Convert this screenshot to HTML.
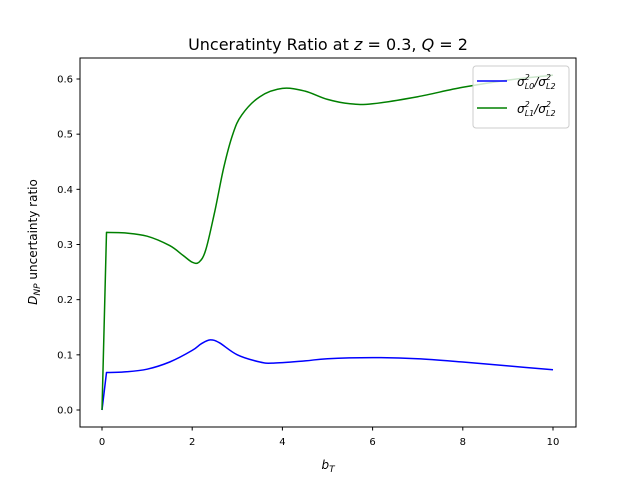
<!DOCTYPE html>
<html><head><meta charset="utf-8"><style>
body{margin:0;background:#fff}
svg text{font-family:"DejaVu Sans","Liberation Sans",sans-serif;fill:#000}
</style></head><body>
<svg id="chart" width="640" height="480" xmlns="http://www.w3.org/2000/svg">
<rect width="640" height="480" fill="#fff"/>
<text x="328" y="50" font-size="16" text-anchor="middle">Unceratinty Ratio at <tspan font-style="italic">z</tspan> = 0.3, <tspan font-style="italic">Q</tspan> = 2</text>
<g id="ticks"></g>
<g id="series"></g>
<rect x="80" y="58" width="496" height="369" fill="none" stroke="#000" stroke-width="1"/>
<text x="328" y="469" font-size="12" text-anchor="middle"><tspan font-style="italic">b</tspan><tspan font-size="9" dy="3" font-style="italic">T</tspan></text>
<text transform="translate(37,242) rotate(-90)" font-size="12" text-anchor="middle"><tspan font-style="italic">D</tspan><tspan font-size="9" dy="3" font-style="italic">NP</tspan><tspan dy="-3"> uncertainty ratio</tspan></text>
<g>
<rect x="473" y="66" width="96" height="62" rx="3" fill="#fff" fill-opacity="0.8" stroke="#ccc"/>
<line x1="477" y1="81" x2="507" y2="81" stroke="#0000ff" stroke-width="1.5"/>
<text x="517" y="86" font-size="12" font-style="italic">σ<tspan font-size="8" dy="-6">2</tspan><tspan font-size="8" dx="-5" dy="9">L0</tspan><tspan dy="-3">/σ</tspan><tspan font-size="8" dy="-6">2</tspan><tspan font-size="8" dx="-5" dy="9">L2</tspan></text>
<line x1="477" y1="108" x2="507" y2="108" stroke="#008000" stroke-width="1.5"/>
<text x="517" y="113" font-size="12" font-style="italic">σ<tspan font-size="8" dy="-6">2</tspan><tspan font-size="8" dx="-5" dy="9">L1</tspan><tspan dy="-3">/σ</tspan><tspan font-size="8" dy="-6">2</tspan><tspan font-size="8" dx="-5" dy="9">L2</tspan></text>
</g>
</svg>
<script>
const xTicks=[0,2,4,6,8,10];
const yTicks=[0.0,0.1,0.2,0.3,0.4,0.5,0.6];
const xsGreen=[0,0.1,0.5,1,1.5,1.8,2.0,2.15,2.3,2.5,2.7,2.9,3.1,3.5,4.0,4.5,5,5.5,6,7,8,9,10];
const ysGreen=[0,0.322,0.321,0.315,0.298,0.28,0.268,0.268,0.29,0.36,0.44,0.5,0.535,0.568,0.583,0.578,0.563,0.555,0.555,0.568,0.585,0.598,0.607];
const xsBlue=[0,0.1,0.5,1,1.5,2,2.2,2.4,2.6,3,3.5,3.8,4.5,5,6,7,8,9,10];
const ysBlue=[0,0.068,0.069,0.074,0.087,0.108,0.12,0.127,0.122,0.1,0.087,0.085,0.089,0.093,0.095,0.093,0.087,0.08,0.073];
const NS="http://www.w3.org/2000/svg";
function sx(v){return 102+v*45.1;}
function sy(v){return 410-v*(331/0.6);}
const tg=document.getElementById('ticks');
xTicks.forEach(t=>{
 const l=document.createElementNS(NS,'line');
 l.setAttribute('x1',sx(t));l.setAttribute('x2',sx(t));l.setAttribute('y1',427);l.setAttribute('y2',430.5);l.setAttribute('stroke','#000');
 
 
 tg.appendChild(l);
 const tx=document.createElementNS(NS,'text');
 tx.setAttribute('x',sx(t));tx.setAttribute('y',445);tx.setAttribute('font-size','10');tx.setAttribute('text-anchor','middle');tx.textContent=t;
 
 
 tg.appendChild(tx);
});
yTicks.forEach(t=>{
 const l=document.createElementNS(NS,'line');
 l.setAttribute('x1',76.5);l.setAttribute('x2',80);l.setAttribute('y1',sy(t));l.setAttribute('y2',sy(t));l.setAttribute('stroke','#000');
 
 
 tg.appendChild(l);
 const tx=document.createElementNS(NS,'text');
 tx.setAttribute('x',73);tx.setAttribute('y',sy(t)+3.5);tx.setAttribute('font-size','10');tx.setAttribute('text-anchor','end');tx.textContent=t.toFixed(1);
 
 
 tg.appendChild(tx);
});
const sg=document.getElementById('series');
function draw(xs,ys,color,name){
 const P=xs.map((x,i)=>[sx(x),sy(ys[i])]);
 let d='M'+P[0][0].toFixed(1)+','+P[0][1].toFixed(1)+' L'+P[1][0].toFixed(1)+','+P[1][1].toFixed(1);
 for(let i=1;i<P.length-1;i++){
  const p0=P[i-1<1?1:i-1],p1=P[i],p2=P[i+1],p3=P[i+2<P.length?i+2:i+1];
  const c1=[p1[0]+(p2[0]-p0[0])/6,p1[1]+(p2[1]-p0[1])/6];
  const c2=[p2[0]-(p3[0]-p1[0])/6,p2[1]-(p3[1]-p1[1])/6];
  d+=' C'+c1.map(v=>v.toFixed(1)).join(',')+' '+c2.map(v=>v.toFixed(1)).join(',')+' '+p2.map(v=>v.toFixed(1)).join(',');
 }
 const p=document.createElementNS(NS,'path');
 p.setAttribute('d',d);
 p.setAttribute('fill','none');p.setAttribute('stroke',color);p.setAttribute('stroke-width','1.5');p.setAttribute('stroke-linejoin','round');
 
 
 sg.appendChild(p);
}
draw(xsBlue,ysBlue,'#0000ff','series-l0-ratio');
draw(xsGreen,ysGreen,'#008000','series-l1-ratio');
</script>
</body></html>
